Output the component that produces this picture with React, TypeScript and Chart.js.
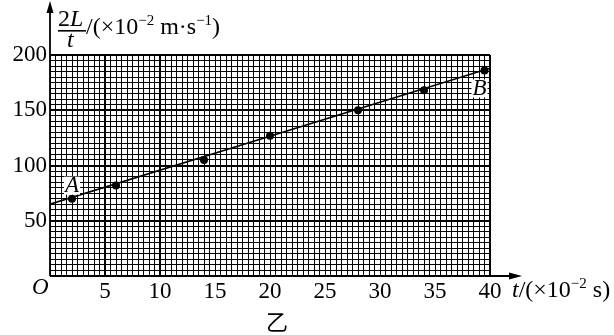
import React, { useEffect, useRef } from "react";
import { Chart, registerables } from "chart.js";
Chart.register(...registerables);

const pointT = [2, 6, 14, 20, 28, 34, 39.5];
const pointV = [70, 82, 105, 127, 150, 168, 186];
const fitT = [0, 40];
const fitV = [65, 188];
const xMajorLabels = [5, 10, 15, 20, 25, 30, 35, 40];
const yMajorLabels = [50, 100, 150, 200];
const labelA = { t: 2, v: 70, text: "A" };
const labelB = { t: 39.5, v: 186, text: "B" };

const SERIF = "'Liberation Serif', 'DejaVu Serif', serif";

export default function App() {
  const ref = useRef<HTMLCanvasElement>(null);
  useEffect(() => {
    document.body.style.margin = "0";
    const overlay = {
      id: "overlay",
      afterDraw(chart: any) {
        const ctx = chart.ctx as CanvasRenderingContext2D;
        const xs = chart.scales.x;
        const ys = chart.scales.y;
        const x0 = xs.getPixelForValue(0);
        const y0 = ys.getPixelForValue(0);
        ctx.save();
        ctx.strokeStyle = "#000";
        ctx.fillStyle = "#000";
        ctx.lineWidth = 1.8;
        // y axis with arrow
        ctx.beginPath();
        ctx.moveTo(x0, y0);
        ctx.lineTo(x0, 8);
        ctx.stroke();
        ctx.beginPath();
        ctx.moveTo(x0, 1);
        ctx.lineTo(x0 - 3.5, 13);
        ctx.lineTo(x0 + 3.5, 13);
        ctx.closePath();
        ctx.fill();
        // x axis with arrow
        ctx.beginPath();
        ctx.moveTo(x0, y0);
        ctx.lineTo(515, y0);
        ctx.stroke();
        ctx.beginPath();
        ctx.moveTo(522, y0);
        ctx.lineTo(509, y0 - 3.5);
        ctx.lineTo(509, y0 + 3.5);
        ctx.closePath();
        ctx.fill();

        // origin
        ctx.textBaseline = "alphabetic";
        ctx.textAlign = "left";
        ctx.font = `italic 23px ${SERIF}`;
        ctx.fillText("O", 32, 294);

        // y title: fraction 2L / t
        ctx.font = `24px ${SERIF}`;
        ctx.fillText("2", 58, 26);
        const w2 = ctx.measureText("2").width;
        ctx.font = `italic 24px ${SERIF}`;
        ctx.fillText("L", 58 + w2, 26);
        ctx.fillRect(58, 30, 28, 1.6);
        ctx.fillText("t", 67, 47);
        // rest of y title
        let cx = 86;
        const piece = (txt: string, font: string, base: number) => {
          ctx.font = font;
          ctx.fillText(txt, cx, base);
          cx += ctx.measureText(txt).width;
        };
        piece("/(×10", `24px ${SERIF}`, 34);
        piece("−2", `15px ${SERIF}`, 25);
        piece(" m·s", `24px ${SERIF}`, 34);
        piece("−1", `15px ${SERIF}`, 25);
        piece(")", `24px ${SERIF}`, 34);

        // x title
        cx = 512;
        piece("t", `italic 24px ${SERIF}`, 297);
        piece("/(×10", `24px ${SERIF}`, 297);
        piece("−2", `15px ${SERIF}`, 288);
        piece(" s)", `24px ${SERIF}`, 297);

        // point labels
        ctx.font = `italic 23px ${SERIF}`;
        ctx.textAlign = "center";
        ctx.textBaseline = "middle";
        const drawLbl = (text: string, px: number, py: number) => {
          const w = ctx.measureText(text).width;
          ctx.fillStyle = "#fff";
          ctx.fillRect(px - w / 2 - 1, py - 9, w + 2, 18);
          ctx.fillStyle = "#000";
          ctx.fillText(text, px, py);
        };
        drawLbl(labelA.text, xs.getPixelForValue(labelA.t), ys.getPixelForValue(labelA.v) - 13);
        drawLbl(labelB.text, xs.getPixelForValue(labelB.t) - 5, ys.getPixelForValue(labelB.v) + 18);

        // caption
        ctx.font = `22px 'Noto Sans CJK SC', sans-serif`;
        ctx.fillText("乙", 277, 322);
        ctx.restore();
      },
    };

    const chart = new Chart(ref.current as HTMLCanvasElement, {
      type: "scatter",
      data: {
        datasets: [
          {
            type: "line",
            data: fitT.map((t, i) => ({ x: t, y: fitV[i] })),
            borderColor: "#000",
            borderWidth: 1.6,
            pointRadius: 0,
            fill: false,
          } as any,
          {
            data: pointT.map((t, i) => ({ x: t, y: pointV[i] })),
            backgroundColor: "#000",
            borderColor: "#000",
            pointRadius: 4,
            borderWidth: 0,
          },
        ],
      },
      options: {
        responsive: false,
        animation: false,
        events: [],
        layout: { padding: { left: 0, top: 55, right: 124, bottom: 0 } },
        plugins: { legend: { display: false }, tooltip: { enabled: false } },
        scales: {
          x: {
            type: "linear",
            min: 0,
            max: 40,
            ticks: {
              stepSize: 0.5,
              autoSkip: false,
              maxRotation: 0,
              minRotation: 0,
              padding: 2,
              color: "#000",
              font: { family: SERIF, size: 23 },
              callback: (v: any) => (xMajorLabels.includes(Number(v)) ? String(v) : ""),
            },
            grid: {
              color: "#000",
              drawTicks: false,
              lineWidth: (c: any) => {
                const v = c.tick?.value;
                return v === 5 || v === 10 || v === 40 ? 2 : 1;
              },
            },
            border: { display: false },
            afterFit: (s: any) => {
              s.height = 59;
            },
          },
          y: {
            type: "linear",
            min: 0,
            max: 200,
            ticks: {
              stepSize: 5,
              autoSkip: false,
              padding: 3,
              color: "#000",
              font: { family: SERIF, size: 23 },
              callback: (v: any) => (yMajorLabels.includes(Number(v)) ? String(v) : ""),
            },
            grid: {
              color: "#000",
              drawTicks: false,
              lineWidth: (c: any) => {
                const v = c.tick?.value;
                return yMajorLabels.includes(v) ? 2 : 1;
              },
            },
            border: { display: false },
            afterFit: (s: any) => {
              s.width = 50;
            },
          },
        },
      },
      plugins: [overlay],
    });
    return () => chart.destroy();
  }, []);
  return <canvas ref={ref} width={614} height={335} style={{ display: "block" }} />;
}
